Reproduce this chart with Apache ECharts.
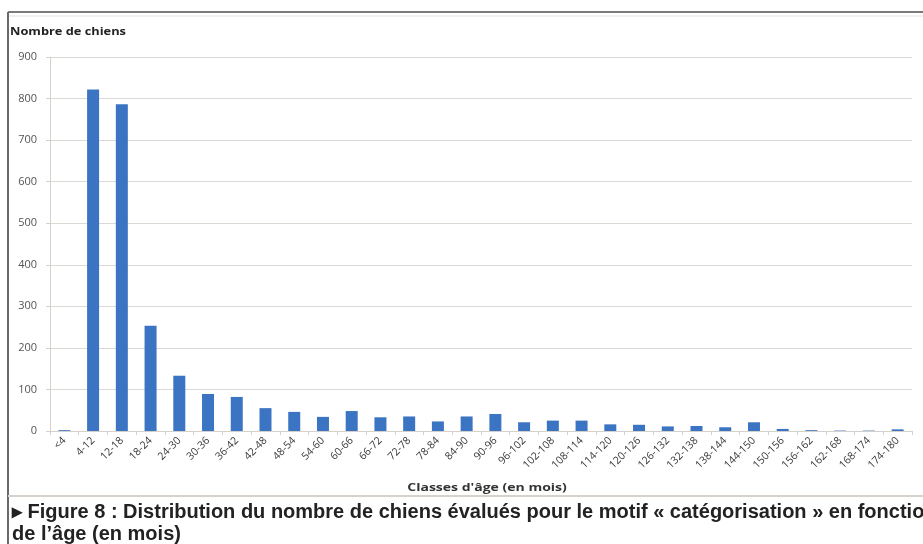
<!DOCTYPE html>
<html>
<head>
<meta charset="utf-8">
<script src="https://cdn.jsdelivr.net/npm/echarts@6/dist/echarts.min.js"></script>
<style>
html,body{margin:0;padding:0;background:#fff;}
#c{width:923px;height:544px;}
</style>
</head>
<body>
<div id="c"></div>
<script>
const categories = ['<4','4-12','12-18','18-24','24-30','30-36','36-42','42-48','48-54','54-60','60-66','66-72','72-78','78-84','84-90','90-96','96-102','102-108','108-114','114-120','120-126','126-132','132-138','138-144','144-150','150-156','156-162','162-168','168-174','174-180'];
const dogCounts = [2,822,786,253,133,89,82,55,46,34,48,33,35,23,35,41,21,25,25,16,15,11,12,9,21,5,2,1,1,4];
const yTicks = {min:0, max:900, interval:100};
const yAxisTitle = 'Nombre de chiens';
const xAxisTitle = "Classes d'âge (en mois)";
const captionLine1 = '\u25B8 Figure 8 : Distribution du nombre de chiens évalués pour le motif « catégorisation » en fonction';
const captionLine2 = "de l’âge (en mois)";

const chart = echarts.init(document.getElementById('c'), null, {renderer:'canvas'});
const labelFont = '"Open Sans", "DejaVu Sans", sans-serif';
chart.setOption({
  animation:false,
  backgroundColor:'#ffffff',
  grid:{left:50, right:11, top:57, bottom:113, containLabel:false},
  xAxis:{
    type:'category',
    data:categories,
    boundaryGap:true,
    axisLine:{show:true, lineStyle:{color:'#d4d0cc', width:1}},
    axisTick:{show:true, length:4, lineStyle:{color:'#d4d0cc'}},
    axisLabel:{rotate:45, interval:0, fontSize:10.5, color:'#383838', fontFamily:labelFont, margin:8}
  },
  yAxis:{
    type:'value',
    min:yTicks.min, max:yTicks.max, interval:yTicks.interval,
    axisLine:{show:true, lineStyle:{color:'#d4d0cc', width:1}},
    axisTick:{show:true, length:4, lineStyle:{color:'#d4d0cc'}},
    splitLine:{show:true, lineStyle:{color:'#dcd8d3', width:1}},
    axisLabel:{fontSize:11, color:'#555555', fontFamily:labelFont, margin:13}
  },
  series:[{
    type:'bar',
    data:dogCounts,
    barWidth:12,
    itemStyle:{color:'#3b74c2'}
  }],
  graphic:[
    {type:'line', shape:{x1:8,y1:12,x2:923,y2:12}, style:{stroke:'#7a7a7a', lineWidth:2}, silent:true},
    {type:'line', shape:{x1:8,y1:16,x2:923,y2:16}, style:{stroke:'#e2e0de', lineWidth:1}, silent:true},
    {type:'line', shape:{x1:8,y1:12,x2:8,y2:544}, style:{stroke:'#6a6a6a', lineWidth:2}, silent:true},
    {type:'line', shape:{x1:8,y1:496,x2:923,y2:496}, style:{stroke:'#d8d2cc', lineWidth:2}, silent:true},
    {type:'text', x:10, y:27, scaleX:1.28, originX:0, originY:0,
      style:{text:yAxisTitle, font:'bold 10px "Open Sans", sans-serif', fill:'#222', textAlign:'left', textVerticalAlign:'top'}},
    {type:'text', x:487, y:483, scaleX:1.4, originX:0, originY:0,
      style:{text:xAxisTitle, font:'bold 10px "Open Sans", sans-serif', fill:'#333', textAlign:'center', textVerticalAlign:'top'}},
    {type:'text', x:12, y:502,
      style:{text:captionLine1, font:'bold 20px "Liberation Sans", Arial, sans-serif', fill:'#222', textAlign:'left', textVerticalAlign:'top'}},
    {type:'text', x:12, y:524,
      style:{text:captionLine2, font:'bold 20px "Liberation Sans", Arial, sans-serif', fill:'#222', textAlign:'left', textVerticalAlign:'top'}}
  ]
});
</script>
</body>
</html>
